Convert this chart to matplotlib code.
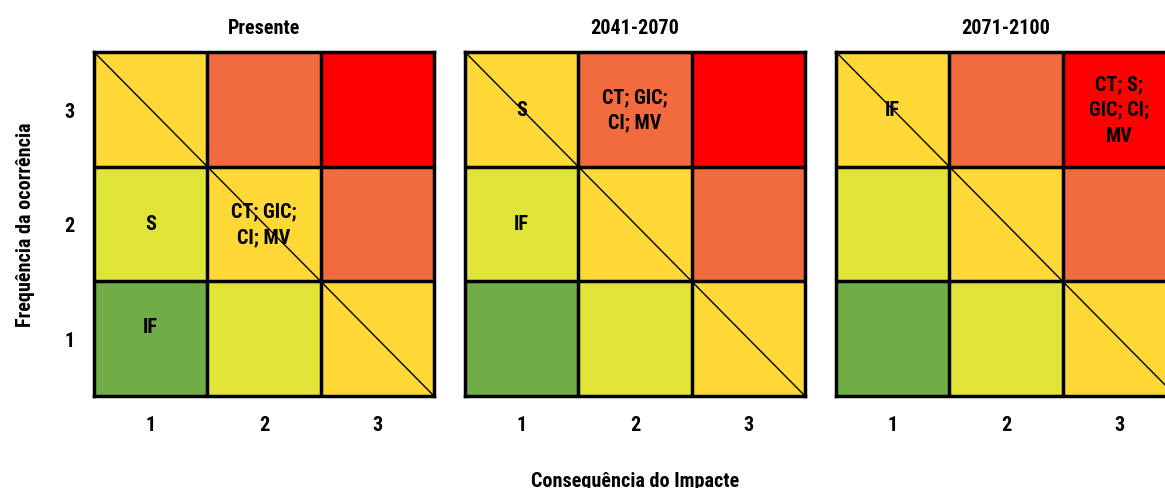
import matplotlib.pyplot as plt
from matplotlib import font_manager as fm
from matplotlib.colors import ListedColormap
import numpy as np

periods = ['Presente', '2041-2070', '2071-2100']
freq_ticks = ['1', '2', '3']
cons_ticks = ['1', '2', '3']

# risk level per cell, rows = frequency 1..3, cols = consequence 1..3
risk_level = [[0, 1, 2],
              [1, 2, 3],
              [2, 3, 4]]
level_colors = ['#70AD47', '#E1E537', '#FED836', '#F26B3F', '#FF0000']

# (consequence, frequency, text) for each period
labels_presente = [(1, 2, 'S'), (2, 2, 'CT; GIC;\nCI; MV'), (1, 1.11, 'IF')]
labels_2041 = [(1, 3, 'S'), (2, 3, 'CT; GIC;\nCI; MV'), (1, 2, 'IF')]
labels_2071 = [(1, 3, 'IF'), (3, 3, 'CT; S;\nGIC; CI;\nMV')]
period_labels = [labels_presente, labels_2041, labels_2071]

# pick a narrow bold face if one is installed
installed = {f.name for f in fm.fontManager.ttflist}
candidates = ['Roboto Condensed', 'Liberation Sans Narrow', 'Open Sans Condensed',
              'Noto Sans Condensed', 'Roboto', 'DejaVu Sans']
family = next(n for n in candidates if n in installed)
font = dict(family=family, weight='bold')
fs = 14.5

fig = plt.figure(figsize=(11.65, 4.89), dpi=100)
lefts = [94, 465, 836]
cmap = ListedColormap(level_colors)

for i, name in enumerate(periods):
    ax = fig.add_axes([lefts[i] / 1165, 92 / 489, 340 / 1165, 344 / 489])
    ax.imshow(np.array(risk_level), cmap=cmap, vmin=-0.5, vmax=4.5,
              origin='lower', extent=[0.5, 3.5, 0.5, 3.5], aspect='auto')
    for k in [1.5, 2.5]:
        ax.axvline(k, color='black', lw=2.5)
        ax.axhline(k, color='black', lw=2.5)
    ax.plot([0.5, 3.5], [3.5, 0.5], color='black', lw=1)
    for x, y, txt in period_labels[i]:
        ax.text(x, y, txt, ha='center', va='center', fontsize=fs,
                linespacing=1.45, **font)
    ax.set_xlim(0.5, 3.5)
    ax.set_ylim(0.5, 3.5)
    for s in ax.spines.values():
        s.set_linewidth(2.5)
    ax.set_xticks([1, 2, 3])
    ax.set_xticklabels(cons_ticks, fontsize=fs, **font)
    ax.tick_params(length=0, pad=14)
    if i == 0:
        ax.set_yticks([1, 2, 3])
        ax.set_yticklabels(freq_ticks, fontsize=fs, **font)
        ax.tick_params(axis='y', pad=14)
        ax.set_ylabel('Frequência da ocorrência', fontsize=fs, labelpad=21, **font)
    else:
        ax.set_yticks([])
    if i == 1:
        ax.set_xlabel('Consequência do Impacte', fontsize=fs, labelpad=26, **font)
    ax.set_title(name, fontsize=fs, pad=14, **font)

fig.savefig('out.png', dpi=100)
